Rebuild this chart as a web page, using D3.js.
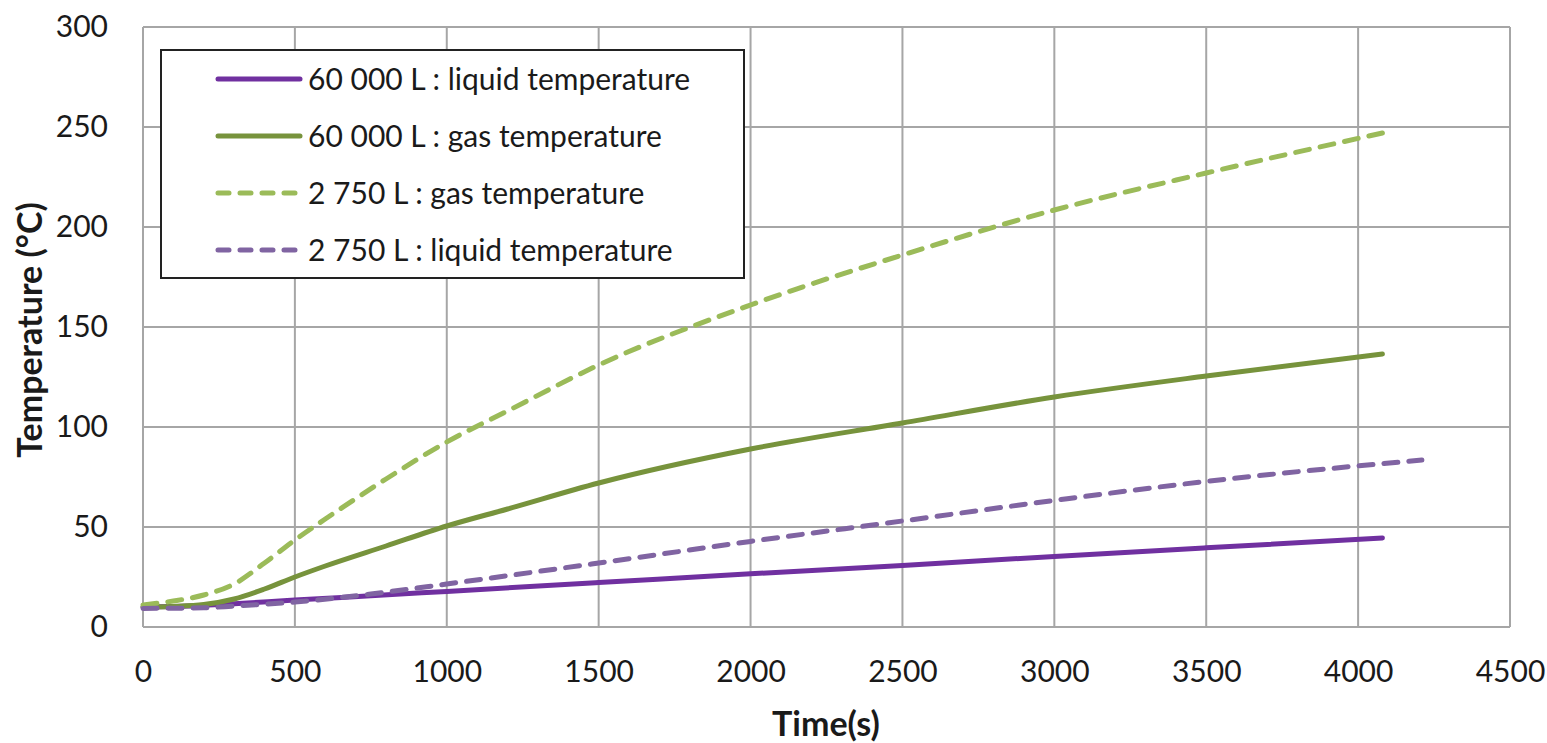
<!DOCTYPE html>
<html>
<head>
<meta charset="utf-8">
<script src="https://cdnjs.cloudflare.com/ajax/libs/d3/7.8.5/d3.min.js"></script>
<style>
  body { margin: 0; background: #fff; }
  text { font-family: Lato, "Open Sans", sans-serif; fill: #1a1a1a; }
</style>
</head>
<body>
<svg width="1547" height="743"></svg>
<script>
// grab svg
const svg = d3.select("svg");

// data
const liq60Time = [0, 100, 200, 300, 500, 750, 1000, 1500, 2000, 2500, 3000, 3500, 4080];
const liq60Temp = [10, 10.3, 10.8, 11.6, 13.5, 15.6, 17.8, 22.2, 26.6, 30.8, 35.3, 39.6, 44.5];

const gas60Time = [0, 100, 200, 300, 400, 500, 600, 800, 1000, 1200, 1500, 2000, 2500, 3000, 3500, 4080];
const gas60Temp = [10, 10.3, 11.2, 14, 19, 25, 30.5, 40.5, 50.5, 59, 72, 89, 102, 115, 125.5, 136.5];

const gas2750Time = [0, 100, 200, 300, 400, 500, 600, 800, 1000, 1200, 1500, 2000, 2500, 3000, 3500, 4080];
const gas2750Temp = [11, 13, 16, 21.5, 32, 43.5, 54, 74, 92.5, 108, 131, 161, 186, 208.5, 227, 247];

const liq2750Time = [0, 200, 300, 500, 750, 1000, 1500, 2000, 2500, 3000, 3500, 4210];
const liq2750Temp = [9.3, 9.6, 10.5, 12.5, 16.5, 21.5, 32, 42.8, 53, 63.3, 72.8, 83.5];

const seriesNames = [
  "60 000 L : liquid temperature",
  "60 000 L : gas temperature",
  "2 750 L : gas temperature",
  "2 750 L : liquid temperature"
];

const xTicks = [0, 500, 1000, 1500, 2000, 2500, 3000, 3500, 4000, 4500];
const yTicks = [0, 50, 100, 150, 200, 250, 300];

const series = [
  { name: seriesNames[0], t: liq60Time, v: liq60Temp, color: "#7030A0", dash: null },
  { name: seriesNames[1], t: gas60Time, v: gas60Temp, color: "#77933C", dash: null },
  { name: seriesNames[2], t: gas2750Time, v: gas2750Temp, color: "#9BBB59", dash: "14,11" },
  { name: seriesNames[3], t: liq2750Time, v: liq2750Temp, color: "#8064A2", dash: "14,11" }
];

const plotLeft = 143, plotRight = 1510, plotTop = 27, plotBottom = 627;

const x = d3.scaleLinear().domain([0, 4500]).range([plotLeft, plotRight]);
const y = d3.scaleLinear().domain([0, 300]).range([plotBottom, plotTop]);

// grid
const grid = svg.append("g").attr("class", "grid");
grid.selectAll("line.h")
  .data(yTicks)
  .enter()
  .append("line")
  .attr("class", "h")
  .attr("x1", plotLeft).attr("x2", plotRight)
  .attr("y1", d => y(d)).attr("y2", d => y(d))
  .attr("stroke", "#a6a6a6")
  .attr("stroke-width", 2);
grid.selectAll("line.v")
  .data(xTicks)
  .enter()
  .append("line")
  .attr("class", "v")
  .attr("y1", plotTop).attr("y2", plotBottom)
  .attr("x1", d => x(d)).attr("x2", d => x(d))
  .attr("stroke", "#a6a6a6")
  .attr("stroke-width", 2);

// axes (labels only, lines come from grid)
const xAxis = svg.append("g")
  .attr("transform", `translate(0,${plotBottom})`)
  .call(d3.axisBottom(x).tickValues(xTicks).tickSize(0).tickPadding(34).tickFormat(d3.format("d")));
const yAxis = svg.append("g")
  .attr("transform", `translate(${plotLeft},0)`)
  .call(d3.axisLeft(y).tickValues(yTicks).tickSize(0).tickPadding(35).tickFormat(d3.format("d")));
[xAxis, yAxis].forEach(a => {
  a.select(".domain").remove();
  a.selectAll("text").style("font-size", "30px").attr("fill", "#1a1a1a");
});

// lines
const line = d3.line()
  .x(d => x(d[0]))
  .y(d => y(d[1]))
  .curve(d3.curveMonotoneX);

svg.append("g")
  .selectAll("path")
  .data(series)
  .enter()
  .append("path")
  .attr("d", d => line(d.t.map((t, i) => [t, d.v[i]])))
  .attr("fill", "none")
  .attr("stroke", d => d.color)
  .attr("stroke-width", 5)
  .attr("stroke-linecap", "round")
  .attr("stroke-dasharray", d => d.dash);

// legend
const legend = svg.append("g").attr("transform", "translate(161,50)");
legend.append("rect")
  .attr("width", 583).attr("height", 228)
  .attr("fill", "#fff")
  .attr("stroke", "#222")
  .attr("stroke-width", 2);
const item = legend.selectAll("g.item")
  .data(series)
  .enter()
  .append("g")
  .attr("transform", (d, i) => `translate(0,${29 + i * 57})`);
item.append("line")
  .attr("x1", 57).attr("x2", 139)
  .attr("stroke", d => d.color)
  .attr("stroke-width", 5)
  .attr("stroke-linecap", "round")
  .attr("stroke-dasharray", d => d.dash ? "11,11" : null);
item.append("text")
  .attr("x", 147)
  .attr("dy", "0.35em")
  .style("font-size", "30px")
  .text(d => d.name);

// axis titles
svg.append("text")
  .attr("x", 826)
  .attr("y", 736)
  .attr("text-anchor", "middle")
  .style("font-size", "34px")
  .style("font-weight", "bold")
  .text("Time(s)");
svg.append("text")
  .attr("transform", `translate(42,330) rotate(-90)`)
  .attr("text-anchor", "middle")
  .style("font-size", "34px")
  .style("font-weight", "bold")
  .text("Temperature (°C)");
</script>
</body>
</html>
